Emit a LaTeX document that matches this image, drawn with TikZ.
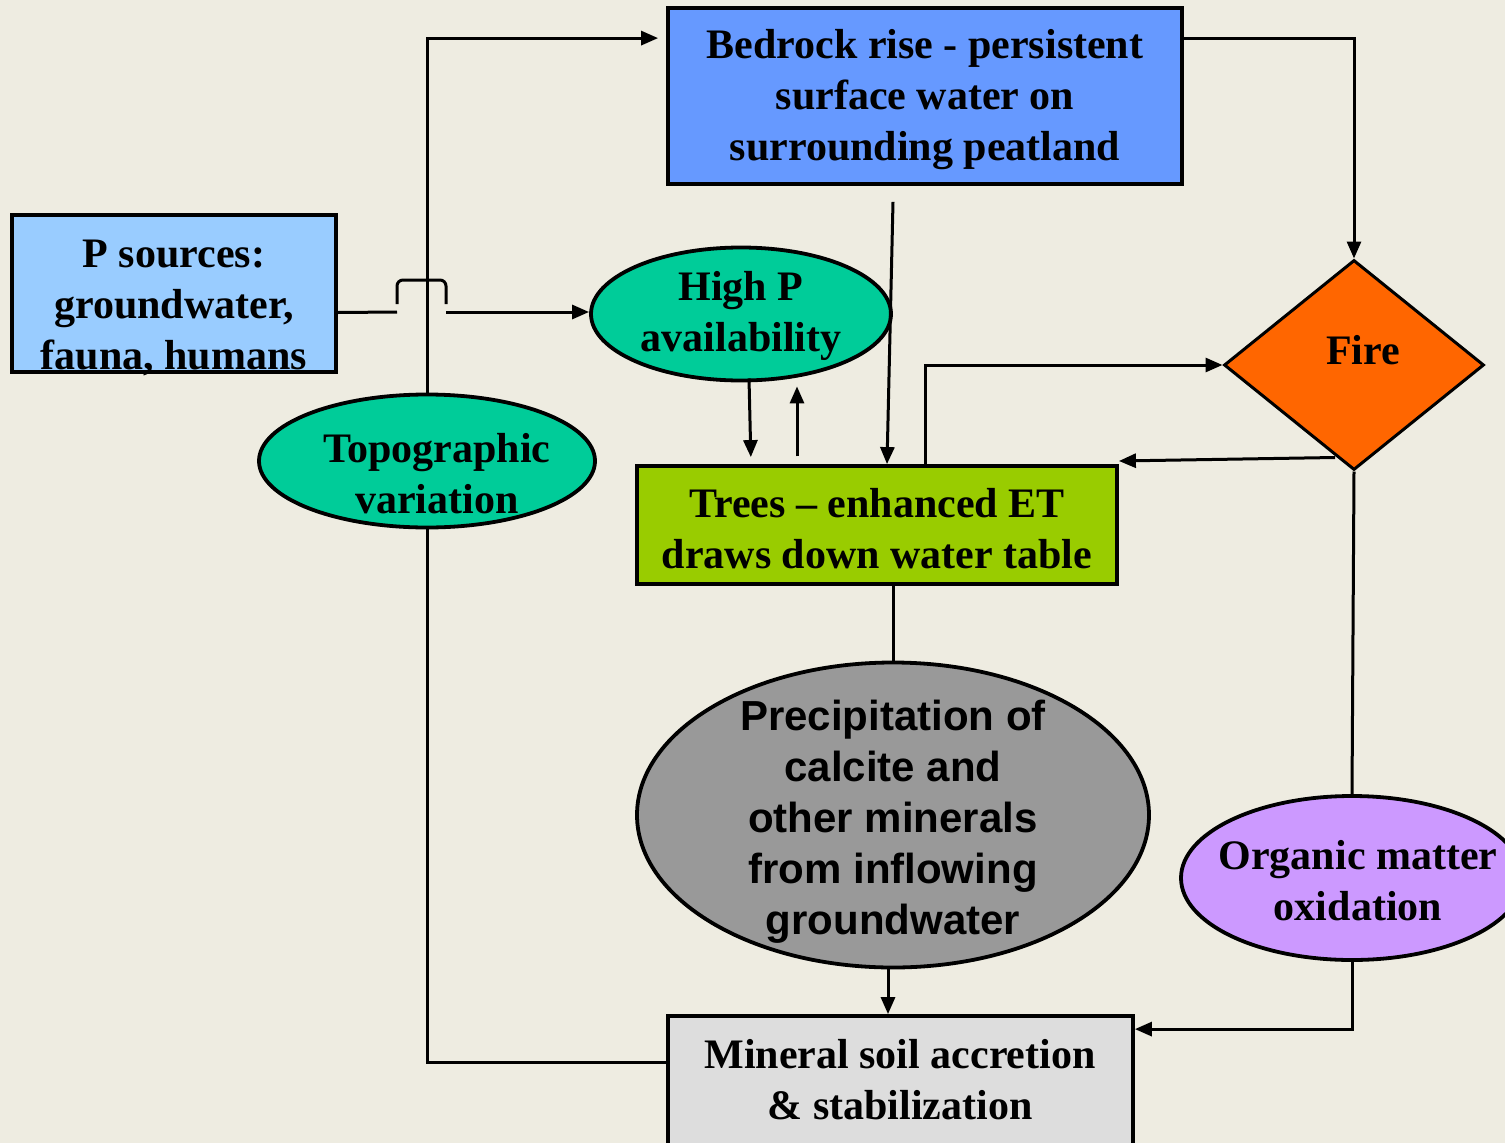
\documentclass[tikz,border=0pt]{standalone}
\usepackage{fontspec}
\setmainfont{Liberation Serif}
\newfontfamily\sansb{Liberation Sans}
\usetikzlibrary{shapes.geometric,arrows.meta,calc}
\definecolor{bgc}{HTML}{EEECE1}
\definecolor{bedc}{HTML}{6699FF}
\definecolor{psc}{HTML}{99CCFF}
\definecolor{greenc}{HTML}{00CC99}
\definecolor{treec}{HTML}{99CC00}
\definecolor{firec}{HTML}{FF6600}
\definecolor{grayc}{HTML}{999999}
\definecolor{orgc}{HTML}{CC99FF}
\definecolor{minc}{HTML}{DDDDDD}
\begin{document}
\begin{tikzpicture}[x=1pt,y=-1pt,
  every node/.style={font=\fontsize{42}{51}\selectfont\bfseries, align=center, inner sep=0pt},
  box/.style={draw, line width=3.8pt, rectangle},
  oval/.style={draw, line width=3.8pt, ellipse},
  lbl/.style={},
  conn/.style={line width=3pt},
  arr/.style={conn, -{Triangle[length=17pt,width=14pt]}}
]
\path[clip] (0,0) rectangle (1505,1143);
\fill[bgc] (0,0) rectangle (1505,1143);

% nodes
\node[box, fill=bedc, minimum width=514pt, minimum height=176pt] (bed) at (925,96) {};
\node[lbl] (bedtext) at (925,100) {Bedrock rise - persistent\\surface water on\\surrounding peatland};
\node[box, fill=psc, minimum width=324pt, minimum height=157pt] (psrc) at (174,293.5) {};
\node[lbl] (psrctext) at (174,308) {P sources:\\groundwater,\\fauna, humans};
\node[oval, fill=greenc, minimum width=300pt, minimum height=133pt] (highP) at (741,314) {};
\node[lbl] (highPtext) at (741,316) {High P\\availability};
\node[oval, fill=greenc, minimum width=336pt, minimum height=133pt] (topo) at (427,461) {};
\node[lbl] (topotext) at (437,474) {Topographic\\variation};
\node[draw, line width=3pt, diamond, fill=firec, minimum width=260pt, minimum height=210pt] (fire) at (1354,365) {};
\node[lbl] (firetext) at (1363,350) {Fire};
\node[box, fill=treec, minimum width=480pt, minimum height=118pt] (trees) at (877,525) {};
\node[lbl] (treestext) at (877,529) {Trees – enhanced ET\\draws down water table};
\node[oval, fill=grayc, minimum width=512pt, minimum height=305pt] (precip) at (893,815) {};
\node[lbl, font=\fontsize{42}{51}\selectfont\sansb\bfseries] (preciptext) at (893,822) {Precipitation of\\calcite and\\other minerals\\from inflowing\\groundwater};
\node[oval, fill=orgc, minimum width=342pt, minimum height=164pt] (org) at (1352,878) {};
\node[lbl] (orgtext) at (1358,881) {Organic matter\\oxidation};
\node[box, fill=minc, minimum width=465pt, minimum height=168pt] (mineral) at (900.5,1100) {};
\node[lbl] (mineraltext) at (900,1080) {Mineral soil accretion\\\& stabilization};

% hop coordinates
\coordinate (hopL) at (397,312);
\coordinate (hopR) at (446,312);

% connectors
\draw[arr] ([yshift=-32pt]bed.north east) -| (fire.north);
\draw[arr, shorten >=8pt] (topo.north) |- ([yshift=-32pt]bed.north west);
\draw[conn] ([yshift=-19pt]psrc.east) -- (hopL);
\draw[conn, rounded corners=6pt] ([yshift=8pt]hopL) -- ([yshift=32pt]hopL) -- ([yshift=32pt]hopR) -- ([yshift=8pt]hopR);
\draw[arr] (hopR) -- (hopR -| highP.west);
\draw[arr, shorten >=7pt] ([xshift=8pt,yshift=4pt]highP.south) -- ([xshift=10pt]highP.south |- trees.north);
\coordinate (upS) at ($(highP.south)+(56,74)$);
\draw[arr, shorten >=4pt] (upS) -- (upS |- highP.south);
\draw[arr] ([xshift=-32pt,yshift=-16pt]bed.south) -- ([xshift=10pt]trees.north);
\draw[arr] ([xshift=48pt]trees.north) |- (fire.west);
\draw[arr] ([xshift=-19pt,yshift=14pt]fire.south) -- ([yshift=64pt]trees.east);
\draw[conn] (trees.south -| precip.north) -- (precip.north);
\draw[arr] ([xshift=-5pt]precip.south) -- ([xshift=-5pt]precip.south |- mineral.north);
\draw[conn] (fire.south) -- (org.north);
\draw[arr] (org.south) |- ([yshift=-15pt]mineral.north east);
\draw[conn] (topo.south) |- ([yshift=-48pt]mineral.north west);
\end{tikzpicture}
\end{document}
